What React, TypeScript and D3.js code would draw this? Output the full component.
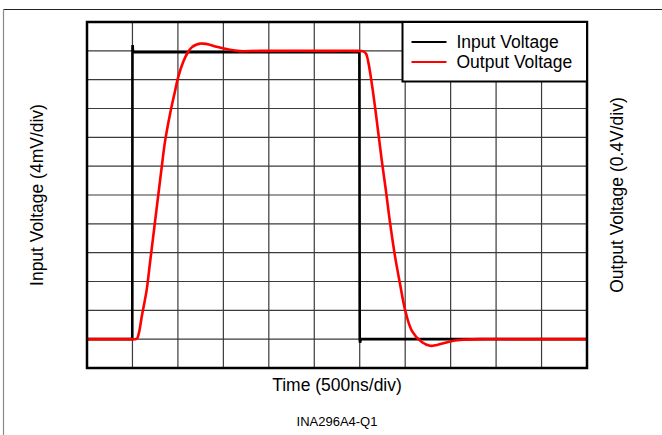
import React from "react";
import * as d3 from "d3";

const W = 662;
const H = 435;

// time axis in ns (500 ns/div, 11 divisions); vertical values in divisions (12 divisions)
const xTicks = d3.range(0, 5501, 500);
const yTicks = d3.range(0, 13, 1);

const inputTime = [0, 498, 500, 502, 506, 520, 2996, 3000, 3003, 3012, 5500];
const inputDiv = [1, 1, 11.1, 11.2, 10.97, 10.95, 10.95, 1.0, 0.88, 1.0, 1.0];

const outputTime = [
  0, 500, 530, 550, 570, 602, 657, 693, 748, 784, 822, 858, 913, 968, 1004, 1059, 1110,
  1152, 1200, 1243, 1276, 1340, 1427, 1550, 1683, 1900, 2700, 2948, 3040, 3070, 3095,
  3132, 3168, 3205, 3242, 3286, 3333, 3388, 3443, 3498, 3572, 3682, 3773, 3850, 3993,
  4103, 4323, 4800, 5500,
];
const outputDiv = [
  1, 1, 1.0, 1.02, 1.2, 1.78, 2.72, 3.65, 5.07, 6.0, 6.97, 7.85, 8.8, 9.6, 10.1, 10.62,
  10.95, 11.12, 11.21, 11.25, 11.25, 11.22, 11.14, 11.05, 10.99, 11.0, 11.0, 11.0, 10.98,
  10.9, 10.6, 9.88, 9.06, 8.14, 7.21, 6.2, 5.05, 3.88, 2.92, 2.03, 1.3, 0.9, 0.77, 0.8,
  0.92, 0.97, 1.0, 1.0, 1.0,
];

const legendLabels = ["Input Voltage", "Output Voltage"];
const legendColors = ["#000000", "#ff0000"];

const xLabel = "Time (500ns/div)";
const yLeftLabel = "Input Voltage (4mV/div)";
const yRightLabel = "Output Voltage (0.4V/div)";
const caption = "INA296A4-Q1";

export default function App() {
  const left = 87, right = 587, top = 22, bottom = 368;
  const x = d3.scaleLinear().domain([0, 5500]).range([left, right]);
  const y = d3.scaleLinear().domain([0, 12]).range([bottom, top]);

  const inputPts: [number, number][] = inputTime.map((t, i) => [t, inputDiv[i]]);
  const outputPts: [number, number][] = outputTime.map((t, i) => [t, outputDiv[i]]);

  const linLine = d3.line<[number, number]>().x((d) => x(d[0])).y((d) => y(d[1]));
  const smoothLine = d3
    .line<[number, number]>()
    .x((d) => x(d[0]))
    .y((d) => y(d[1]))
    .curve(d3.curveCatmullRom.alpha(0.5));

  const font = "Liberation Sans, Arial, sans-serif";
  const cy = (top + bottom) / 2;

  return (
    <svg
      width={W}
      height={H}
      style={{ position: "absolute", left: 0, top: 0, background: "#fff" }}
      fontFamily={font}
    >
      <rect x={0} y={0} width={W} height={H} fill="#fff" />
      {/* outer frame */}
      <line x1={3.5} y1={9.5} x2={W} y2={9.5} stroke="#222" strokeWidth={1} />
      <line x1={3.5} y1={9} x2={3.5} y2={H} stroke="#888" strokeWidth={1.2} />

      {/* grid */}
      {xTicks.map((t) => (
        <line key={"gx" + t} x1={x(t)} x2={x(t)} y1={top} y2={bottom} stroke="#3a3a3a" strokeWidth={1.2} />
      ))}
      {yTicks.map((t) => (
        <line key={"gy" + t} x1={left} x2={right} y1={y(t)} y2={y(t)} stroke="#3a3a3a" strokeWidth={1.2} />
      ))}

      {/* traces */}
      <path d={linLine(inputPts) || ""} fill="none" stroke={legendColors[0]} strokeWidth={2.6} />
      <path d={smoothLine(outputPts) || ""} fill="none" stroke={legendColors[1]} strokeWidth={2.6} />

      {/* plot border */}
      <rect x={left} y={top} width={right - left} height={bottom - top} fill="none" stroke="#000" strokeWidth={2.5} />

      {/* legend */}
      <rect x={402.5} y={top} width={right - 402.5} height={81.5 - top} fill="#fff" stroke="#000" strokeWidth={2} />
      {legendLabels.map((lab, i) => (
        <g key={lab}>
          <line x1={411.5} x2={446.5} y1={42 + i * 20} y2={42 + i * 20} stroke={legendColors[i]} strokeWidth={2.2} />
          <text x={456.5} y={48 + i * 20} fontSize={17.5} fill="#000">
            {lab}
          </text>
        </g>
      ))}

      {/* axis labels */}
      <text x={(left + right) / 2} y={391} fontSize={17.5} textAnchor="middle" fill="#000">
        {xLabel}
      </text>
      <text
        transform={`translate(${43},${cy}) rotate(-90)`}
        fontSize={17.5}
        textAnchor="middle"
        fill="#000"
      >
        {yLeftLabel}
      </text>
      <text
        transform={`translate(${623},${cy}) rotate(-90)`}
        fontSize={17.5}
        textAnchor="middle"
        fill="#000"
      >
        {yRightLabel}
      </text>
      <text x={(left + right) / 2} y={426} fontSize={13} textAnchor="middle" fill="#000">
        {caption}
      </text>
    </svg>
  );
}
